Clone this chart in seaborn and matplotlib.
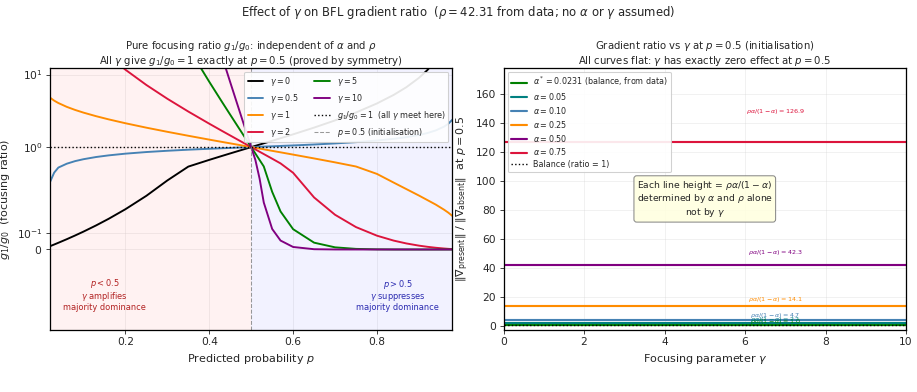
import matplotlib
matplotlib.use("Agg")
import matplotlib.pyplot as plt
import numpy as np
import pandas as pd
import seaborn as sns
from matplotlib.ticker import FixedLocator, NullLocator, LogFormatterSciNotation, MultipleLocator

# left panel: focusing ratio g1/g0 at these p
p_vals = [0.02, 0.03, 0.04, 0.06, 0.08, 0.10, 0.13, 0.16, 0.20, 0.25, 0.30, 0.35,
          0.40, 0.43, 0.45, 0.47, 0.48, 0.49, 0.50, 0.51, 0.52, 0.53, 0.55, 0.57,
          0.60, 0.65, 0.70, 0.75, 0.80, 0.84, 0.87, 0.90, 0.92, 0.94, 0.96, 0.97, 0.98]

ratio_g0 = [0.0204, 0.0309, 0.0417, 0.0638, 0.0870, 0.1111, 0.1494, 0.1905, 0.25, 0.3333,
            0.4286, 0.5385, 0.6667, 0.7544, 0.8182, 0.8868, 0.9231, 0.9608, 1.0,
            1.0408, 1.0833, 1.1277, 1.2222, 1.3256, 1.5, 1.8571, 2.3333, 3.0, 4.0,
            5.25, 6.6923, 9.0, 11.5, 15.667, 24.0, 32.333, 49.0]
ratio_g05 = [0.418, 0.477, 0.522, 0.590, 0.641, 0.681, 0.730, 0.769, 0.812, 0.855,
             0.890, 0.921, 0.948, 0.964, 0.974, 0.985, 0.990, 0.995, 1.0,
             1.005, 1.010, 1.016, 1.026, 1.037, 1.054, 1.086, 1.124, 1.170, 1.232,
             1.300, 1.370, 1.468, 1.561, 1.696, 1.916, 2.097, 2.392]
ratio_g1 = [4.815, 4.373, 4.053, 3.591, 3.254, 2.988, 2.669, 2.412, 2.133, 1.853,
            1.625, 1.433, 1.268, 1.180, 1.126, 1.074, 1.048, 1.024, 1.0,
            0.977, 0.954, 0.932, 0.888, 0.847, 0.788, 0.698, 0.616, 0.540, 0.469,
            0.415, 0.375, 0.335, 0.307, 0.279, 0.247, 0.229, 0.208]
ratio_g2 = [415.6, 244.2, 165.0, 92.39, 59.64, 41.67, 26.59, 18.16, 11.67, 7.184,
            4.641, 3.092, 2.102, 1.677, 1.446, 1.247, 1.158, 1.076, 1.0,
            0.929, 0.863, 0.802, 0.692, 0.596, 0.476, 0.323, 0.2155, 0.139, 0.0857,
            0.0551, 0.0376, 0.0240, 0.0168, 0.0108, 0.0061, 0.0041, 0.0024]
ratio_g5 = [1.08e8, 1.76e7, 4.71e6, 6.93e5, 1.68e5, 5.38e4, 1.32e4, 4125, 1095, 263.5,
            74.76, 23.57, 7.950, 4.230, 2.793, 1.850, 1.507, 1.227, 1.0,
            0.815, 0.664, 0.541, 0.358, 0.236, 0.126, 0.0424, 0.0134, 0.0038, 0.0009,
            0.00024, 7.6e-5, 1.9e-5, 6e-6, 1.4e-6, 2e-7, 6e-8, 9e-9]
ratio_g10 = [5.4e16, 1.1e15, 6.2e13, 1.0e12, 5.0e10, 4.5e9, 2.4e8, 2.1e7, 1.39e6, 7.55e4,
             5854, 569.2, 63.96, 18.02, 7.836, 3.431, 2.273, 1.508, 1.0,
             0.663, 0.440, 0.2915, 0.1276, 0.0555, 0.0156, 0.00176, 0.00017, 1.3e-5, 7e-7,
             5e-8, 4e-9, 2e-10, 2e-11, 1e-12, 2e-14, 1e-15, 2e-17]

gamma_names = ["0", "0.5", "1", "2", "5", "10"]
gamma_ratios = [ratio_g0, ratio_g05, ratio_g1, ratio_g2, ratio_g5, ratio_g10]
gamma_colors = ["black", "steelblue", "darkorange", "crimson", "green", "purple"]

# right panel: flat gradient ratio rho*alpha/(1-alpha) for each alpha
rho = 42.31
alpha_names = [r"$\alpha^* = 0.0231$ (balance, from data)", r"$\alpha = 0.05$",
               r"$\alpha = 0.10$", r"$\alpha = 0.25$", r"$\alpha = 0.50$", r"$\alpha = 0.75$"]
alpha_heights = [1.00, 2.23, 4.70, 14.10, 42.31, 126.93]
alpha_colors = ["green", "teal", "steelblue", "darkorange", "purple", "crimson"]
gamma_axis = [0, 2, 4, 6, 8, 10]

sns.set_style("ticks")
plt.rcParams["font.family"] = ["DejaVu Sans"]

DPI = 76.4
fig, (ax1, ax2) = plt.subplots(1, 2, figsize=(917 / DPI, 392 / DPI))
fig.subplots_adjust(left=0.0545, right=0.988, top=0.827, bottom=0.158, wspace=0.127)

# ---- left panel
ax1.axvspan(0, 0.5, color="red", alpha=0.05, lw=0)
ax1.axvspan(0.5, 1, color="blue", alpha=0.05, lw=0)
for name, vals, col in zip(gamma_names, gamma_ratios, gamma_colors):
    df = pd.DataFrame({"p": p_vals, "r": vals})
    sns.lineplot(data=df, x="p", y="r", ax=ax1, color=col, lw=1.8,
                 label=rf"$\gamma = {name}$")
ax1.axhline(1.0, color="black", ls=":", lw=1.3, label=r"$g_1/g_0 = 1$  (all $\gamma$ meet here)")
ax1.axvline(0.5, color="gray", ls="--", lw=1.0, alpha=0.8, label=r"$p = 0.5$ (initialisation)")
ax1.set_yscale("symlog", linthresh=0.5)
ax1.set_xlim(0.02, 0.98)
ax1.set_ylim(-0.5, 12.4)
ax1.yaxis.set_major_locator(FixedLocator([0, 0.1, 1, 10]))
ax1.yaxis.set_major_formatter(LogFormatterSciNotation())
ax1.yaxis.set_minor_locator(NullLocator())
ax1.grid(alpha=0.3)
ax1.set_xlabel(r"Predicted probability $p$", fontsize=10.5)
ax1.set_ylabel(r"$g_1/g_0$  (focusing ratio)", fontsize=10.5)
ax1.set_title("Pure focusing ratio $g_1/g_0$: independent of $\\alpha$ and $\\rho$\n"
              "All $\\gamma$ give $g_1/g_0 = 1$ exactly at $p = 0.5$ (proved by symmetry)",
              fontsize=9.5, pad=4, linespacing=1.05)
ax1.text(0.15, -0.28, "$p < 0.5$\n$\\gamma$ amplifies\nmajority dominance", color="#b22222",
         ha="center", va="center", fontsize=7.8, linespacing=1.0)
ax1.text(0.85, -0.28, "$p > 0.5$\n$\\gamma$ suppresses\nmajority dominance", color="#2b2bb0",
         ha="center", va="center", fontsize=7.8, linespacing=1.0)
ax1.legend(loc="upper right", ncol=2, fontsize=7.5, framealpha=0.9)

# ---- right panel
for name, h, col in zip(alpha_names, alpha_heights, alpha_colors):
    df = pd.DataFrame({"g": gamma_axis, "r": [h] * len(gamma_axis)})
    sns.lineplot(data=df, x="g", y="r", ax=ax2, color=col, lw=2.0, label=name)
    ax2.text(6.75, h * 1.15 + 2, rf"$\rho\alpha/(1-\alpha) = {h:.1f}$", color=col,
             ha="center", va="center", fontsize=6)
ax2.axhline(1.0, color="black", ls=":", lw=1.3, label="Balance (ratio = 1)")
ax2.set_xlim(0, 10)
ax2.set_ylim(-2.5, 178)
ax2.yaxis.set_major_locator(MultipleLocator(20))
ax2.grid(alpha=0.3)
ax2.set_xlabel(r"Focusing parameter $\gamma$", fontsize=10.5)
ax2.set_ylabel(r"$\|\nabla_{\rm present}\|\ /\ \|\nabla_{\rm absent}\|$  at $p = 0.5$", fontsize=10.5)
ax2.set_title("Gradient ratio vs $\\gamma$ at $p = 0.5$ (initialisation)\n"
              "All curves flat: $\\gamma$ has exactly zero effect at $p = 0.5$",
              fontsize=9.5, pad=4, linespacing=1.05)
ax2.text(0.5, 0.5, "Each line height = $\\rho\\alpha/(1-\\alpha)$\n"
         "determined by $\\alpha$ and $\\rho$ alone\nnot by $\\gamma$",
         transform=ax2.transAxes, ha="center", va="center", fontsize=8.7, linespacing=1.1,
         bbox=dict(boxstyle="round", facecolor="lightyellow", edgecolor="gray", alpha=0.9))
ax2.legend(loc="upper left", fontsize=7.5, framealpha=0.9, labelspacing=0.35)

for ax in (ax1, ax2):
    for s in ax.spines.values():
        s.set_color("black")
        s.set_linewidth(1.2)

fig.suptitle(r"Effect of $\gamma$ on BFL gradient ratio  ($\rho = 42.31$ from data; no $\alpha$ or $\gamma$ assumed)",
             fontsize=11, y=0.99)

fig.savefig("out.png", dpi=DPI)
